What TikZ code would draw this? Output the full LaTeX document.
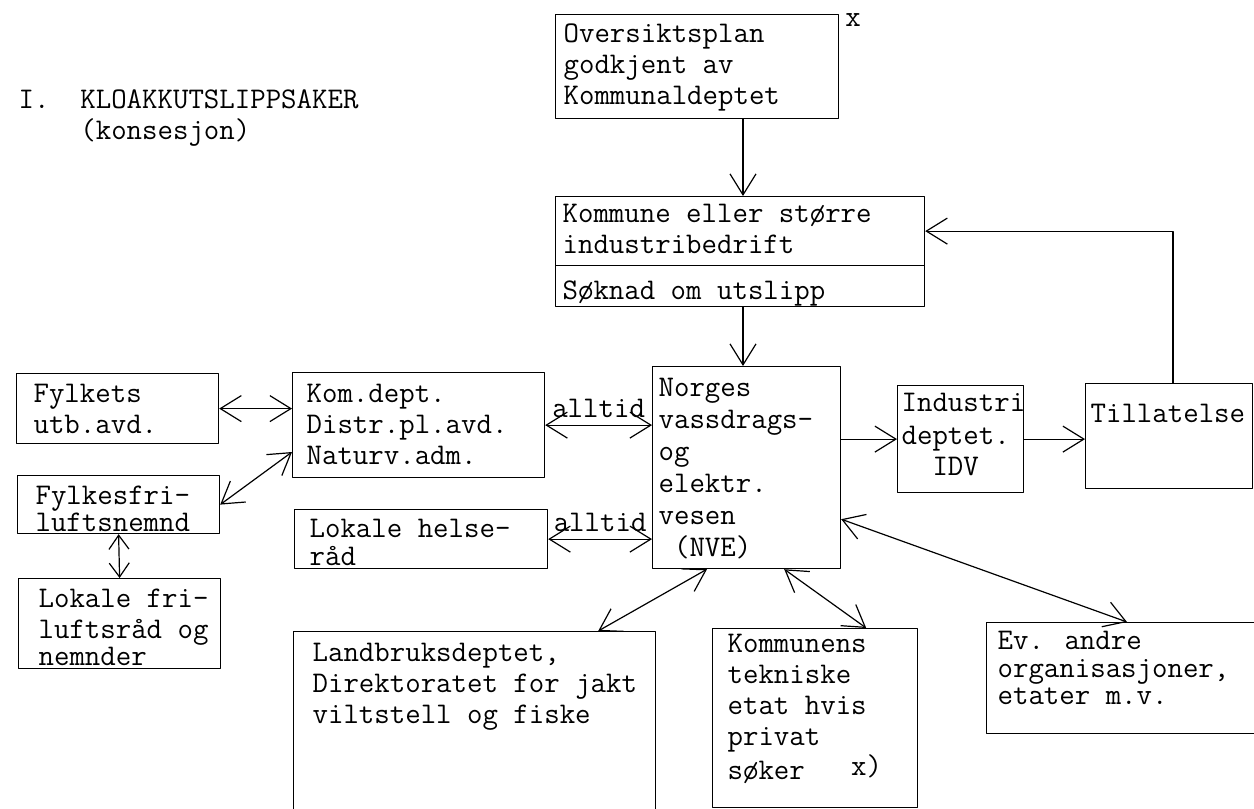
\documentclass[tikz,border=0pt]{standalone}
\usepackage{fontspec}
\usetikzlibrary{arrows.meta,calc}

% box text: width, height, left pad, first baseline (all in px), text
\newcommand{\felt}[5]{\parbox[t][\dimexpr#2pt/2\relax][t]{\dimexpr#1pt/2\relax}{\raggedright\leftskip=\dimexpr#3pt/2\relax\rule{0pt}{\dimexpr#4pt/2\relax}#5}}

\begin{document}
\begin{tikzpicture}[x=0.5pt, y=-0.5pt, font=\ttfamily\addfontfeatures{FakeBold=0.6}\fontsize{15}{15.5}\selectfont, line join=round, line cap=round, line width=0.6pt, >={Straight Barb[length=10.5pt,width=13pt]},
	boks/.style={draw, anchor=north west, inner sep=0pt},
	kort/.style={{Straight Barb[length=7pt,width=10pt]}-{Straight Barb[length=7pt,width=10pt]}}]
	\useasboundingbox (0,0) rectangle (1254,809);
	\node[anchor=north west, align=left, inner sep=0pt] (tittel) at (18,89) {I.~~KLOAKKUTSLIPPSAKER\\~~~~(konsesjon)};
	% top column
	\node[boks] (oversikt) at (555,14) {\felt{283}{104}{8}{28}{Oversiktsplan\\godkjent av\\Kommunaldeptet}};
	\node (fotnote) at (853,20) {x};
	\node[boks] (kommune) at (555,196) {\felt{369}{69}{7}{26}{Kommune eller større\\industribedrift}};
	\node[boks] (soknad) at (555,265) {\felt{369}{41}{7}{34}{Søknad om utslipp}};
	\node[boks] (nve) at (652,366) {\felt{188}{202}{6}{30}{Norges\\[0.5pt]vassdrags-\\[0.5pt]og\\[0.5pt]elektr.\\[0.5pt]vesen\\[0.5pt]~(NVE)}};
	\node[boks] (industri) at (897,385) {\felt{126}{107}{4}{26}{Industri\\[1pt]deptet.\\~~IDV}};
	\node[boks] (tillatelse) at (1085,383) {\felt{167}{105}{5}{39}{Tillatelse}};
	% left side
	\node[boks] (fylkets) at (16,373) {\felt{202}{70}{17}{29}{Fylkets\\utb.avd.}};
	\node[boks] (komdept) at (292,372) {\felt{252}{105}{14}{30}{Kom.dept.\\Distr.pl.avd.\\Naturv.adm.}};
	\node[boks] (fylkesfri) at (17,475) {\felt{202}{58}{18}{29}{Fylkesfri-\\[-2pt]luftsnemnd}};
	\node[boks] (lokalefri) at (18,578) {\felt{202}{90}{20}{29}{Lokale fri-\\luftsråd og\\[-2pt]nemnder}};
	\node[boks] (helse) at (294,509) {\felt{253}{59}{15}{28}{Lokale helse-\\[-1.5pt]råd}};
	% bottom row
	\node[boks] (landbruk) at (293,631) {\felt{362}{184}{19}{30}{Landbruksdeptet,\\Direktoratet for jakt\\viltstell og fiske}};
	\node[boks] (kommunens) at (712,628) {\felt{205}{179}{15}{24}{Kommunens\\tekniske\\etat hvis\\privat\\søker~~~\raisebox{2pt}{x)}}};
	\node[boks] (andre) at (986,622) {\felt{274}{111}{11}{27}{Ev. andre\\[-1.75pt]organisasjoner,\\[-1.75pt]etater m.v.}};
	% connectors
	\coordinate (akse) at (743,0);
	\draw[->] (oversikt.south -| akse) -- (kommune.north -| akse);
	\draw[->] (soknad.south -| akse) -- (nve.north -| akse);
	\draw[->] ($(tillatelse.north west)+(88,0)$) |- (kommune.east);
	\draw[->] (nve.east |- industri.west) -- (industri.west);
	\draw[->] (industri.east) -- (industri.east -| tillatelse.west);
	\draw[<->] (fylkets.east) -- (fylkets.east -| komdept.west);
	\draw[<->] (fylkesfri.east) -- (komdept.192);
	\draw[kort] (fylkesfri.south) -- (lokalefri.north);
	\draw[<->] (komdept.east) -- (komdept.east -| nve.west) node[midway, above] (alltid1) {alltid};
	\draw[<->] (helse.east) -- (helse.east -| nve.west) node[midway, above] (alltid2) {alltid};
	\draw[<->] ($(nve.south west)+(55,0)$) -- ($(landbruk.north east)+(-58,0)$);
	\draw[<->] ($(nve.south east)+(-57,0)$) -- ($(kommunens.north east)+(-52,0)$);
	\draw[<->] ($(nve.south east)+(0,-50)$) -- ($(andre.north west)+(141,0)$);
\end{tikzpicture}
\end{document}
